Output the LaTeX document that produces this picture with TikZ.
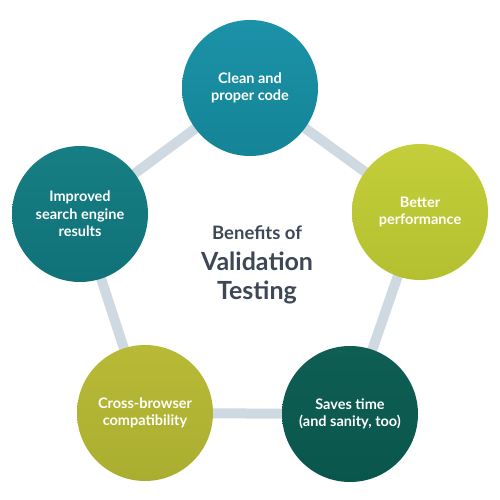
\documentclass[tikz,border=0pt]{standalone}
\usepackage{fontspec}
\setmainfont{Lato}
\definecolor{edgec}{HTML}{CFD9E1}
\definecolor{titlec}{HTML}{3E4755}
\begin{document}
\begin{tikzpicture}[x=1pt,y=-1pt,
  bubble/.style={circle, minimum size=136pt, inner sep=0pt, text=white, align=center,
    font=\fontsize{14.5}{17.5}\selectfont\bfseries},
  link/.style={draw=edgec, line width=10pt}]
\useasboundingbox (0,0) rectangle (500,500);
\coordinate (a) at (250,88);
\coordinate (b) at (420,212);
\coordinate (c) at (350,414);
\coordinate (d) at (145,413);
\coordinate (e) at (80,214);
\draw[link] (a) -- (b) -- (c) -- (d) -- (e) -- cycle;
\node[bubble, top color={rgb,255:red,28;green,146;blue,168}, bottom color={rgb,255:red,20;green,132;blue,150}] (n1) at (a) {Clean and\\proper code};
\node[bubble, top color={rgb,255:red,196;green,206;blue,58}, bottom color={rgb,255:red,180;green,192;blue,48}] (n2) at (b) {Better\\performance};
\node[bubble, top color={rgb,255:red,14;green,94;blue,84}, bottom color={rgb,255:red,10;green,86;blue,76}] (n3) at (c) {Saves time\\(and sanity, too)};
\node[bubble, top color={rgb,255:red,184;green,186;blue,54}, bottom color={rgb,255:red,170;green,174;blue,48}] (n4) at (d) {Cross-browser\\compatibility};
\node[bubble, top color={rgb,255:red,22;green,126;blue,132}, bottom color={rgb,255:red,16;green,114;blue,120}] (n5) at (e) {Improved\\search engine\\results};
\node[text=titlec, font=\fontsize{18.5}{22}\selectfont\bfseries] (t1) at (257,233) {Benefits of};
\node[text=titlec, font=\fontsize{25}{29}\selectfont\bfseries, align=center] (t2) at (257,278) {Validation\\Testing};
\end{tikzpicture}
\end{document}
